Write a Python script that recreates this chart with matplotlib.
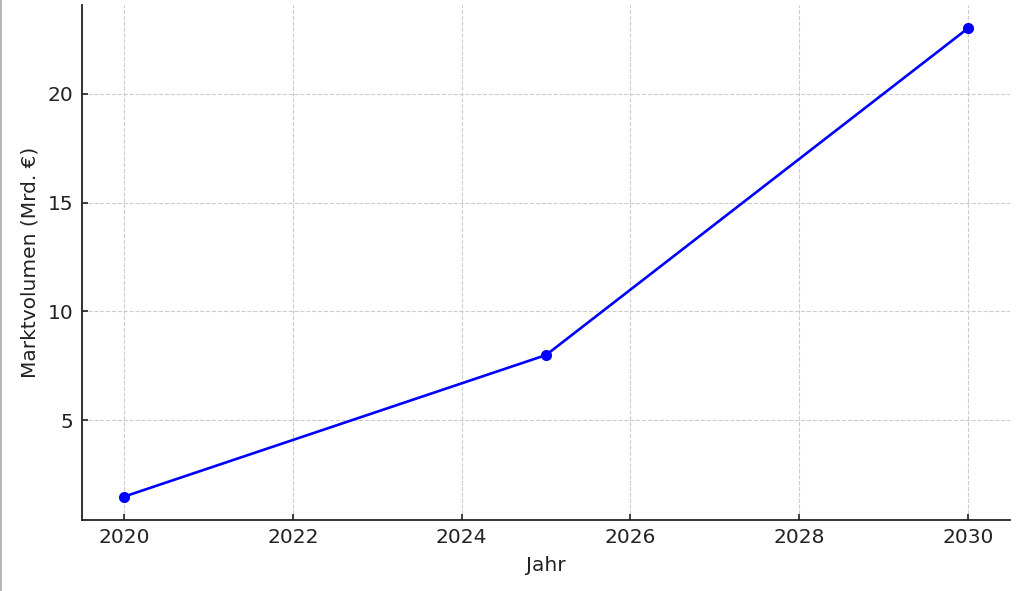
import matplotlib
matplotlib.use('Agg')
import matplotlib.pyplot as plt
from matplotlib.lines import Line2D

jahre = [2020, 2025, 2030]
volumen = [1.5, 8, 23]
x_ticks = [2020, 2022, 2024, 2026, 2028, 2030]
y_ticks = [5, 10, 15, 20]

plt.rcParams['font.family'] = 'DejaVu Sans'

fig = plt.figure(figsize=(10.24, 5.91), dpi=100)
ax = fig.add_axes([82 / 1024, 71 / 591, 928 / 1024, 515 / 591])

ax.plot(jahre, volumen, color='blue', linewidth=1.9, marker='o', markersize=7)

ax.set_xticks(x_ticks)
ax.set_yticks(y_ticks)
ax.tick_params(direction='in', length=4.5, width=1.2, labelsize=14.5, pad=6,
               colors='#222222')
ax.set_xlabel('Jahr', fontsize=14.5, color='#222222', labelpad=6)
ax.set_ylabel('Marktvolumen (Mrd. €)', fontsize=14.5, color='#222222', labelpad=6)

ax.grid(True, linestyle='--', color='#cccccc', linewidth=0.8)
ax.set_axisbelow(True)
for side in ['top', 'right']:
    ax.spines[side].set_visible(False)
for side in ['left', 'bottom']:
    ax.spines[side].set_linewidth(1.3)
    ax.spines[side].set_color('#222222')

# thin frame line on the left edge of the screenshot
fig.add_artist(Line2D([0.0008, 0.0008], [0, 1], transform=fig.transFigure,
                      color='#aaaaaa', linewidth=1.2))

fig.savefig('out.png', dpi=100)
